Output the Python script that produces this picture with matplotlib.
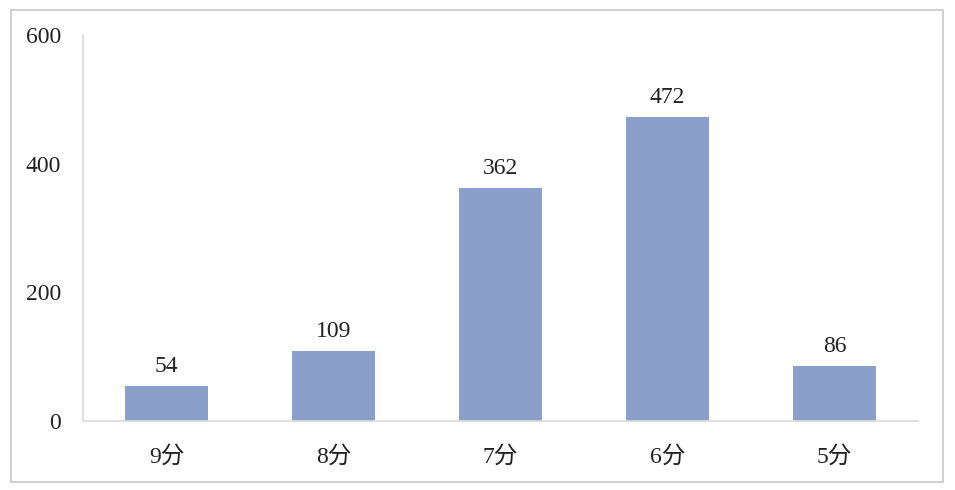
import numpy as np
import matplotlib.pyplot as plt
from matplotlib.patches import Rectangle

categories = ["9分", "8分", "7分", "6分", "5分"]
counts = [54, 109, 362, 472, 86]
yticks = [0, 200, 400, 600]

plt.rcParams['font.family'] = ['Liberation Serif', 'Noto Sans CJK SC']

fig = plt.figure(figsize=(9.55, 4.9), dpi=100)
ax = fig.add_axes([83 / 955, 69 / 490, 835 / 955, 386 / 490])

x = np.arange(len(categories))
ax.bar(x, counts, width=0.5, color="#8A9FCA", zorder=2)

for xi, v in zip(x, counts):
    ax.annotate(str(v), (xi, v), xytext=(0, 6.5), textcoords="offset points",
                ha="center", va="bottom", fontsize=17, color="#222222")

ax.set_xlim(-0.5, len(categories) - 0.5)
ax.set_ylim(0, 600)
ax.set_yticks(yticks)
ax.set_xticks(x)
ax.set_xticklabels(categories)
ax.tick_params(axis="both", length=0, labelsize=17, colors="#222222")
ax.tick_params(axis="y", pad=16)
ax.tick_params(axis="x", pad=18)

for s in ["top", "right"]:
    ax.spines[s].set_visible(False)
for s in ["left", "bottom"]:
    ax.spines[s].set_color("#D9D9D9")
    ax.spines[s].set_linewidth(1.2)

# outer frame of the chart area
fig.patches.append(Rectangle((11 / 955, 8 / 490), 932 / 955, 472 / 490,
                             transform=fig.transFigure, fill=False,
                             edgecolor="#C8C8C8", linewidth=1.2))

fig.savefig("out.png", dpi=100)
